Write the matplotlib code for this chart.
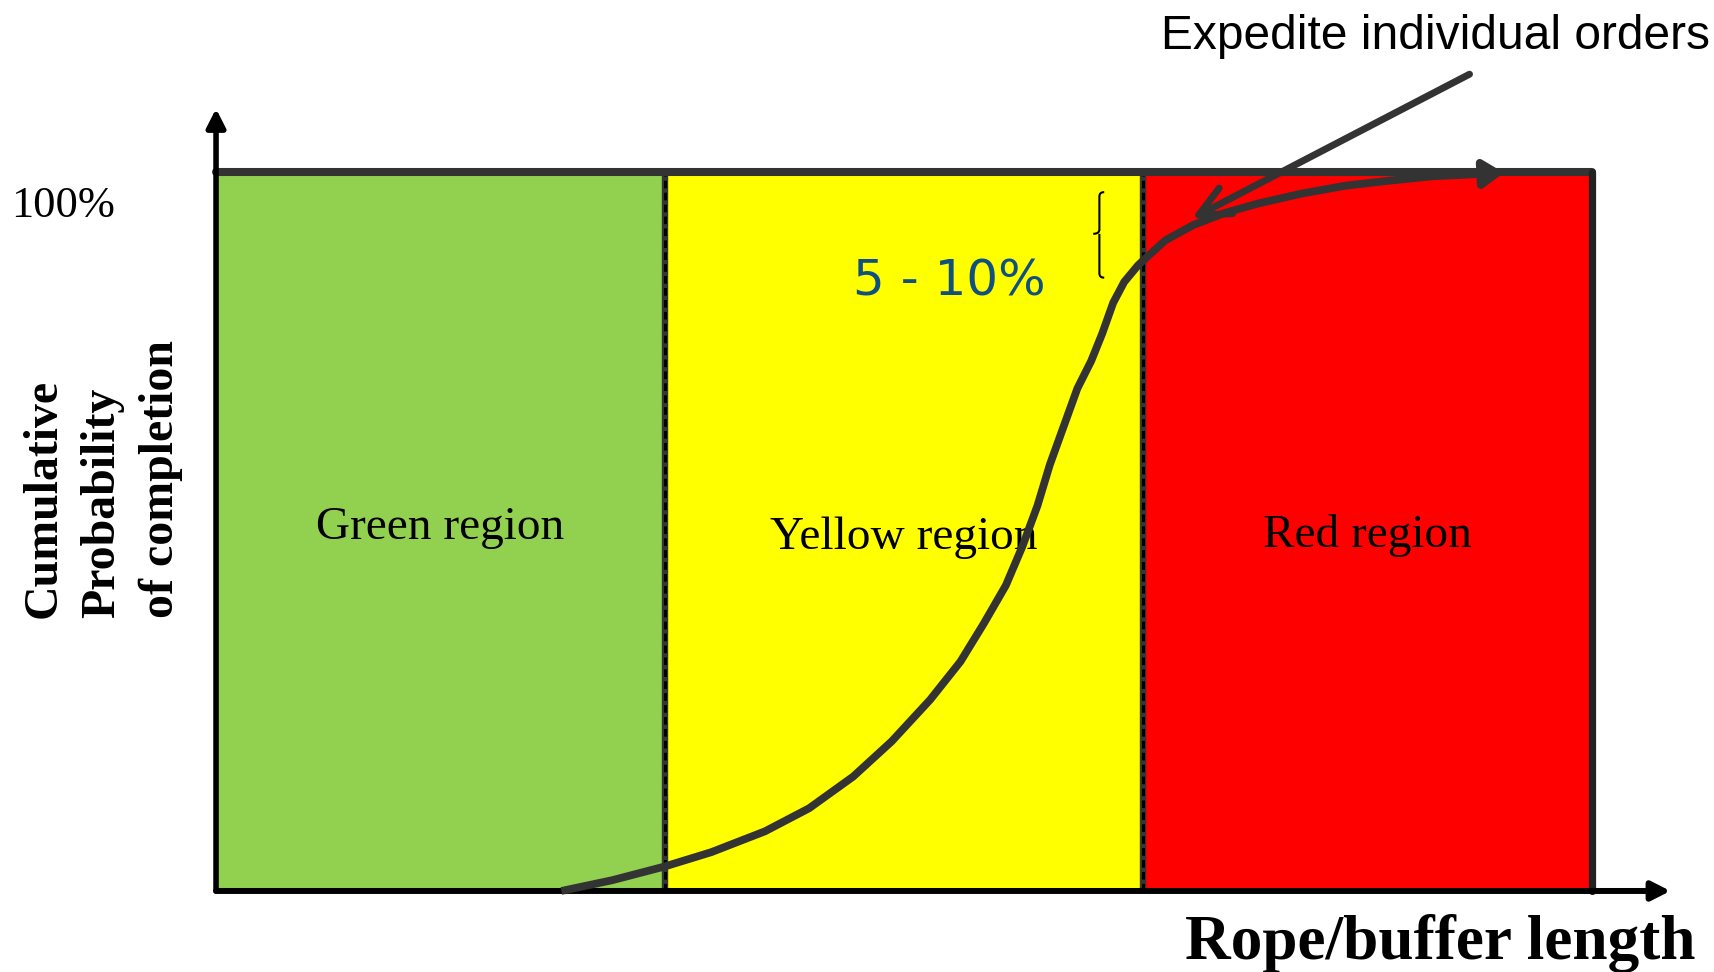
import numpy as np
import matplotlib
matplotlib.use('Agg')
import matplotlib.pyplot as plt
from matplotlib.patches import Rectangle
from matplotlib.path import Path
from matplotlib.patches import PathPatch

# ======================================================================================================================
# data (x = buffer length, y = cumulative probability, both 0..100)
region_edges = [0, 32.6, 67.4, 100]
region_names = ['Green region', 'Yellow region', 'Red region']
region_colors = ['#92D050', '#FFFF00', '#FF0000']
region_label_y = [50.5, 49.1, 49.4]

curve_x = [25.1, 28.8, 32.6, 36.0, 39.9, 43.1, 46.3, 49.1, 51.9, 54.1, 55.8, 57.4, 58.6, 59.7, 60.6, 61.6, 62.6,
           63.6, 64.4, 65.2, 66.0, 67.0, 67.5, 69.0, 71.0, 73.3, 75.7, 78.9, 82.1, 85.3, 88.4, 91.6, 93.6]
curve_y = [0.0, 1.5, 3.4, 5.4, 8.3, 11.5, 15.9, 20.8, 26.6, 31.9, 37.2, 42.5, 47.9, 53.6, 59.3, 64.6, 69.9,
           73.7, 77.5, 81.8, 84.7, 87.0, 87.9, 90.5, 92.6, 94.3, 95.6, 97.0, 98.1, 98.8, 99.4, 99.7, 99.9]

top_label = '100%'
top_label_y = 95.3
band_label = '5 - 10%'
brace_top, brace_mid, brace_bottom = 97.2, 91.4, 85.3
callout_text = 'Expedite individual orders'
callout_from = (91.1, 113.6)
callout_to = (70.9, 93.5)
ylabel_lines = ['Cumulative', 'Probability', 'of completion']
xlabel = 'Rope/buffer length'

# ======================================================================================================================
fig = plt.figure(figsize=(17.15, 9.72), dpi=100)
ax = fig.add_axes([0, 0, 1, 1])
ax.set_xlim(-15.70, 108.94)
ax.set_ylim(-11.27, 123.92)
ax.axis('off')

dark = '#333333'
serif = 'Liberation Serif'

# coloured regions
for i in range(len(region_names)):
    x0, x1 = region_edges[i], region_edges[i + 1]
    ax.add_patch(Rectangle((x0, 0), x1 - x0, 100, facecolor=region_colors[i], edgecolor='none', zorder=1))
    ax.text((x0 + x1) / 2, region_label_y[i], region_names[i], family=serif, fontsize=34,
            ha='center', va='center', zorder=3)

# dividers between regions (grey line with black dashes)
for xd in region_edges[1:-1]:
    ax.plot([xd, xd], [0, 100], color='#363636', lw=4.6, zorder=2, solid_capstyle='butt')
    ax.plot([xd, xd], [0, 100], color='black', lw=2.2, linestyle=(0, (2.5, 1.4)), zorder=2)

# box frame
ax.plot([0, 100], [100, 100], color=dark, lw=5.8, zorder=4, solid_capstyle='round')
ax.plot([100, 100], [0, 100], color='#222222', lw=5.2, zorder=4, solid_capstyle='round')

# axes with arrows
ax.annotate('', xy=(0, 108.8), xytext=(0, 0),
            arrowprops=dict(arrowstyle='-|>,head_length=0.55,head_width=0.28', mutation_scale=20, lw=4.0,
                            color='black', shrinkA=0, shrinkB=0), zorder=5)
ax.annotate('', xy=(105.7, 0), xytext=(0, 0),
            arrowprops=dict(arrowstyle='-|>,head_length=0.55,head_width=0.28', mutation_scale=20, lw=4.3,
                            color='black', shrinkA=0, shrinkB=0), zorder=5)

# completion curve with arrow at the end
ax.plot(curve_x[:-1], curve_y[:-1], color=dark, lw=5.6, zorder=6, solid_capstyle='butt', solid_joinstyle='round')
ax.annotate('', xy=(curve_x[-1], curve_y[-1]), xytext=(curve_x[-2], curve_y[-2]),
            arrowprops=dict(arrowstyle='-|>,head_length=0.6,head_width=0.4', mutation_scale=20, lw=5.6,
                            color=dark, shrinkA=0, shrinkB=0), zorder=6)

# small brace and 5 - 10% label
bx = 64.2
brace = Path([(bx + 0.35, brace_top), (bx, brace_top), (bx, brace_top - 0.6),
              (bx, brace_mid + 0.6), (bx, brace_mid), (bx - 0.45, brace_mid),
              (bx, brace_mid), (bx, brace_mid - 0.6),
              (bx, brace_bottom + 0.6), (bx, brace_bottom), (bx + 0.35, brace_bottom)],
             [Path.MOVETO, Path.CURVE3, Path.CURVE3, Path.LINETO, Path.CURVE3, Path.CURVE3,
              Path.MOVETO, Path.CURVE3, Path.LINETO, Path.CURVE3, Path.CURVE3])
ax.add_patch(PathPatch(brace, facecolor='none', edgecolor='black', lw=1.5, zorder=5))
ax.text(53.3, 82.8, band_label, family='DejaVu Sans', fontsize=36, color='#0F5080',
        ha='center', va='baseline', zorder=5)

# callout
ax.annotate('', xy=callout_to, xytext=callout_from,
            arrowprops=dict(arrowstyle='->,head_length=1.1,head_width=0.52', mutation_scale=20, lw=5.0,
                            color=dark, shrinkA=0, shrinkB=0), zorder=7)
ax.text(68.7, 117.1, callout_text, family='Liberation Sans', fontsize=34.5, ha='left', va='baseline')

# axis labels
ax.text(-11.1, top_label_y, top_label, family=serif, fontsize=32, ha='center', va='center')
ylabel_x = [-12.5, -8.3, -4.0]
for xl, line in zip(ylabel_x, ylabel_lines):
    ax.text(xl, 38.0, line, family=serif, fontsize=34.5, fontweight='bold', rotation=90,
            ha='center', va='bottom')
ax.text(107.5, -9.46, xlabel, family=serif, fontsize=45.5, fontweight='bold', ha='right', va='baseline')

plt.savefig('out.png', dpi=100)
